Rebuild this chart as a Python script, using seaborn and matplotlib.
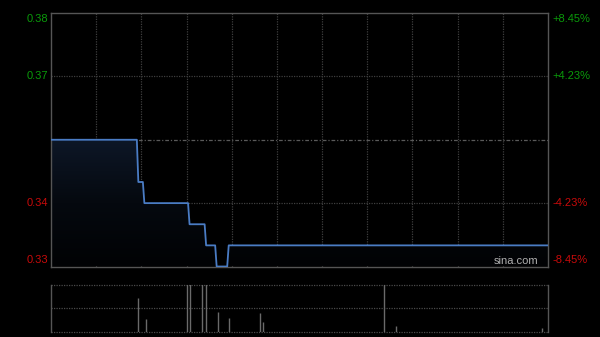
import matplotlib
matplotlib.use("Agg")
import matplotlib.pyplot as plt
import seaborn as sns
import numpy as np
from matplotlib.patches import Polygon
from matplotlib.colors import LinearSegmentedColormap

# ---- data ----
prev_close = 0.355
price_minutes = [0, 57, 58, 61, 62, 91, 92, 102, 103, 109, 110, 117, 118, 330]
price_values = [0.355, 0.355, 0.345, 0.345, 0.34, 0.34, 0.335, 0.335,
                0.33, 0.33, 0.325, 0.325, 0.33, 0.33]
vol_minutes = [58, 63, 90, 92, 100, 103, 111, 118, 139, 141, 221, 229, 326]
vol_values = [0.72, 0.27, 1.6, 1.2, 1.4, 1.1, 0.42, 0.30, 0.39, 0.215, 1.3, 0.12, 0.075]
left_ticks = [0.385, 0.37, 0.34, 0.325]
left_labels = ["0.38", "0.37", "0.34", "0.33"]
right_labels = ["+8.45%", "+4.23%", "-4.23%", "-8.45%"]
total_minutes = 330
grid_minutes = list(range(30, 330, 30))

sns.set_theme(style="dark")
plt.rcParams['font.family'] = ['Liberation Sans', 'DejaVu Sans']

BG = "#000000"
BORDER = "#555555"
GRID = "#3e3e3e"
GREEN = "#0a9a0a"
RED = "#c80a0a"

fig = plt.figure(figsize=(6, 3.37), dpi=100, facecolor=BG)
ax = fig.add_axes([51/600, 1-266.5/337, (548-51)/600, (266.5-13)/337])
axv = fig.add_axes([51/600, 1-331.7/337, (548-51)/600, (331.7-285)/337])

ymin, ymax = prev_close - 0.03, prev_close + 0.03
for a in (ax, axv):
    a.set_facecolor(BG)
    a.set_xlim(0, total_minutes)
    a.set_xticks([]); a.set_yticks([])
    a.grid(False)
    for s in a.spines.values():
        s.set_color(BORDER); s.set_linewidth(1.0)

ax.set_ylim(ymin, ymax)

# grid lines
for m in grid_minutes:
    ax.axvline(m, color=GRID, lw=0.9, ls=(0, (1, 1)), zorder=0.5)
for lv in (0.37, 0.34):
    ax.axhline(lv, color=GRID, lw=0.9, ls=(0, (1, 1)), zorder=0.5)
ax.axhline(prev_close, color="#5a5a5a", lw=0.9, ls=(0, (3, 1.5, 1, 1.5)), zorder=0.6)

# gradient fill under price
cmap = LinearSegmentedColormap.from_list("g", ["#010204", "#05090f", "#0d1727"])
grad = np.linspace(0, 1, 256).reshape(-1, 1)
im = ax.imshow(grad, extent=[0, total_minutes, ymin, prev_close], aspect='auto',
               origin='lower', cmap=cmap, zorder=1)
verts = [(price_minutes[0], ymin)] + list(zip(price_minutes, price_values)) + [(price_minutes[-1], ymin)]
patch = Polygon(verts, closed=True, facecolor='none', edgecolor='none', transform=ax.transData)
ax.add_patch(patch)
im.set_clip_path(patch)
ax.set_xlim(0, total_minutes); ax.set_ylim(ymin, ymax)

sns.lineplot(x=price_minutes, y=price_values, ax=ax, color="#4a7cc4", lw=1.3,
             sort=False, zorder=3)
ax.set_xlim(0, total_minutes); ax.set_ylim(ymin, ymax)
ax.set_xlabel(""); ax.set_ylabel("")
ax.set_xticks([]); ax.set_yticks([])

# axis labels
for i, (v, l, r) in enumerate(zip(left_ticks, left_labels, right_labels)):
    col = GREEN if v > prev_close else RED
    yy = v
    if i == 0:
        yy = ymax - (6/253.5)*0.06
    elif i == len(left_ticks) - 1:
        yy = ymin + (6.5/253.5)*0.06
    ax.text(-0.006, yy, l, transform=ax.get_yaxis_transform(), ha='right', va='center',
            color=col, fontsize=8)
    ax.text(1.009, yy, r, transform=ax.get_yaxis_transform(), ha='left', va='center',
            color=col, fontsize=8)

ax.text(0.98, 0.0, "sina.com", transform=ax.transAxes, ha='right', va='bottom',
        color="#b0b0b0", fontsize=8)

# volume panel
axv.set_ylim(0, 1.0)
axv.spines['top'].set_visible(False)
axv.spines['bottom'].set_visible(False)
for lv in (0.0, 0.5, 1.0):
    axv.axhline(lv, color="#4a4a4a", lw=0.9, ls=(0, (1, 1)), zorder=0.5, clip_on=False)
axv.vlines(vol_minutes, 0, vol_values, color="#6a6a6a", lw=1.0, zorder=2)

fig.savefig("out.png", dpi=100, facecolor=BG)
